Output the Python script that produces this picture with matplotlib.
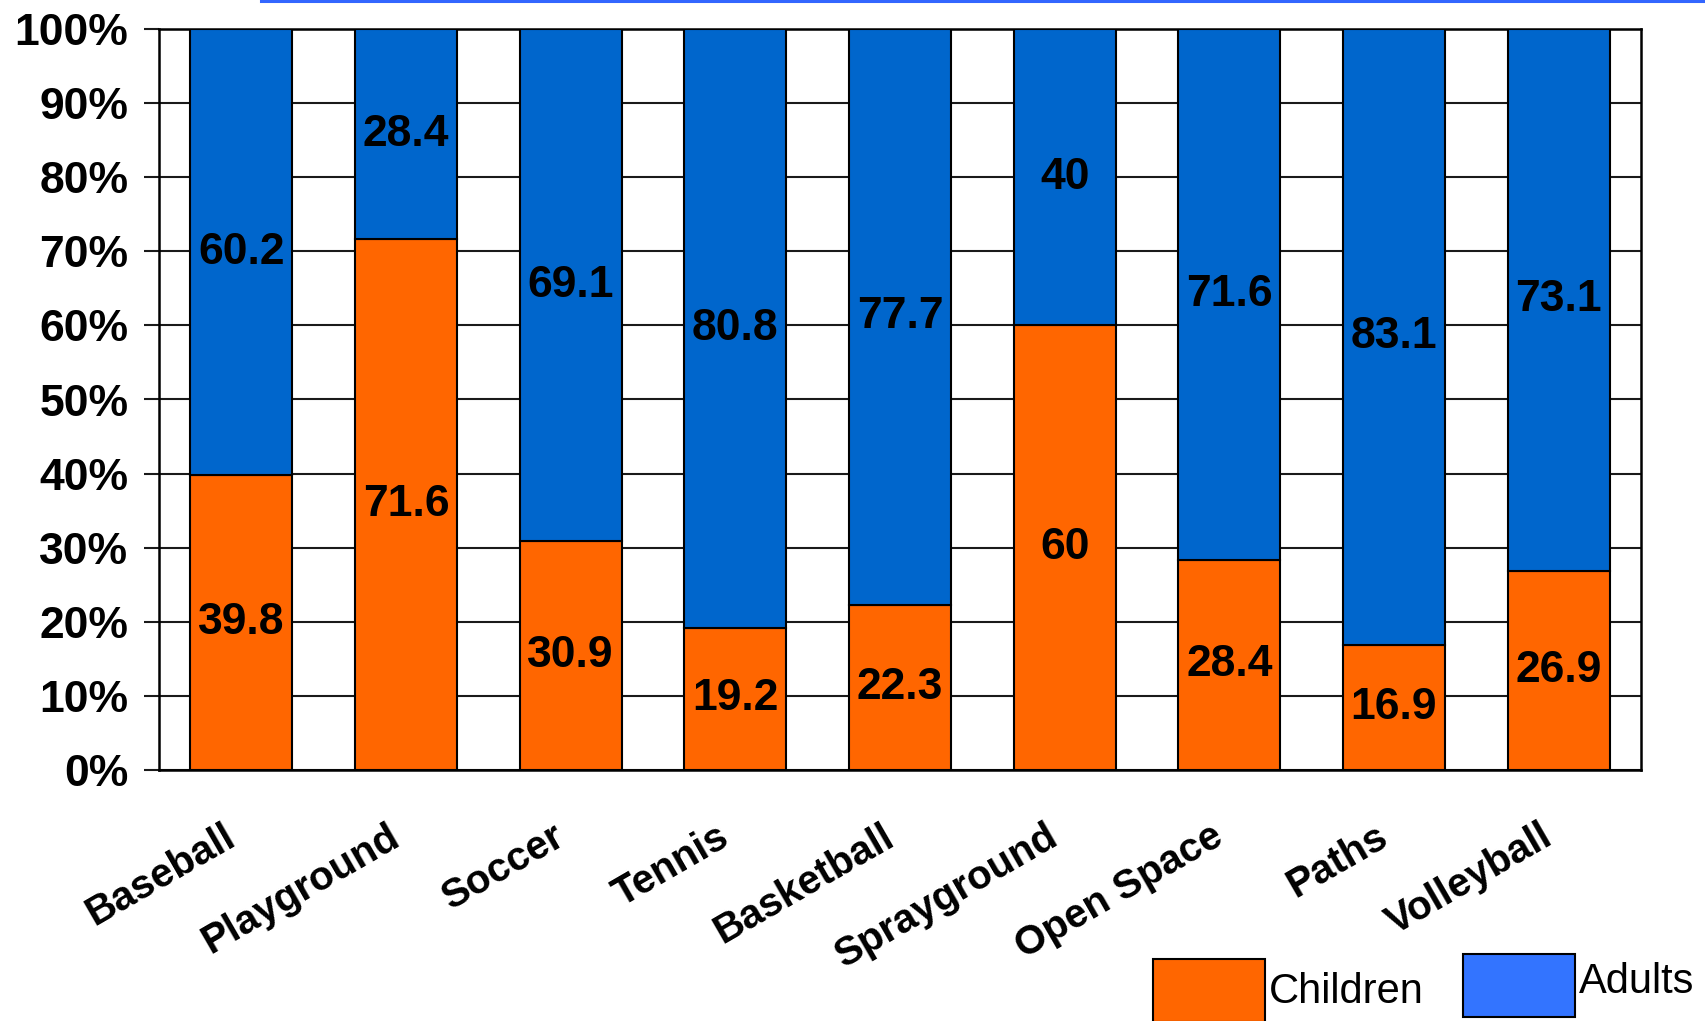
import matplotlib
matplotlib.use("Agg")
import matplotlib.pyplot as plt
import matplotlib.transforms as mtransforms
from matplotlib.patches import Rectangle
from matplotlib.lines import Line2D
import numpy as np

categories = ["Baseball", "Playground", "Soccer", "Tennis", "Basketball",
              "Sprayground", "Open Space", "Paths", "Volleyball"]
children = [39.8, 71.6, 30.9, 19.2, 22.3, 60, 28.4, 16.9, 26.9]
adults = [60.2, 28.4, 69.1, 80.8, 77.7, 40, 71.6, 83.1, 73.1]
yticks = [0, 10, 20, 30, 40, 50, 60, 70, 80, 90, 100]
ytick_labels = [f"{t}%" for t in yticks]

ORANGE = "#FF6600"
BLUE = "#0066CC"
LEG_BLUE = "#3374FF"

plt.rcParams['font.family'] = ['Liberation Sans', 'DejaVu Sans']

W, H = 1705, 1021
fig = plt.figure(figsize=(W / 100, H / 100), dpi=100)
left, right, top, bottom = 159, 1641, 29, 770
ax = fig.add_axes([left / W, 1 - bottom / H, (right - left) / W, (bottom - top) / H])

x = np.arange(len(categories))
bw = 0.62
ax.bar(x, children, width=bw, color=ORANGE, edgecolor="black", linewidth=1.5, zorder=3)
ax.bar(x, adults, width=bw, bottom=children, color=BLUE, edgecolor="black", linewidth=1.5, zorder=3)

for xi, c, a in zip(x, children, adults):
    ax.text(xi, c / 2, f"{c:g}", ha="center", va="center", fontsize=32,
            fontweight="bold", color="black", zorder=4)
    ax.text(xi, c + a / 2, f"{a:g}", ha="center", va="center", fontsize=32,
            fontweight="bold", color="black", zorder=4)

ax.set_xlim(-0.5, len(categories) - 0.5)
ax.set_ylim(0, 100)
ax.set_yticks(yticks)
ax.set_yticklabels(ytick_labels, fontsize=32, fontweight="bold")
ax.yaxis.grid(True, color="#1a1a1a", linewidth=1.5, zorder=0)
ax.set_axisbelow(True)
ax.tick_params(axis="y", direction="out", length=11, width=1.5, pad=11, color="#1a1a1a")
ax.set_xticks(x)
ax.set_xticklabels(categories, fontsize=29, fontweight="bold", rotation=30,
                   ha="right", va="top", rotation_mode="anchor")
ax.tick_params(axis="x", length=0, pad=34)
offset = mtransforms.ScaledTranslation(-19 / 100, 0, fig.dpi_scale_trans)
for lab in ax.get_xticklabels():
    lab.set_transform(lab.get_transform() + offset)
for s in ax.spines.values():
    s.set_linewidth(1.8)
    s.set_color("black")

# top decorative line
fig.add_artist(Line2D([261 / W, 1.0], [1 - 1.5 / H, 1 - 1.5 / H], transform=fig.transFigure,
                      color="#3366FF", linewidth=2.2))

# legend (manual)
fig.add_artist(Rectangle((1153 / W, -1 / H), 112 / W, 63 / H, transform=fig.transFigure,
                         facecolor=ORANGE, edgecolor="black", linewidth=1.5))
fig.text(1269 / W, (H - 992) / H, "Children", fontsize=30, va="center", ha="left")
fig.add_artist(Rectangle((1463 / W, (H - 1017) / H), 112 / W, 63 / H, transform=fig.transFigure,
                         facecolor=LEG_BLUE, edgecolor="black", linewidth=1.5))
fig.text(1579 / W, (H - 982) / H, "Adults", fontsize=30, va="center", ha="left")

fig.savefig("out.png", dpi=100)
